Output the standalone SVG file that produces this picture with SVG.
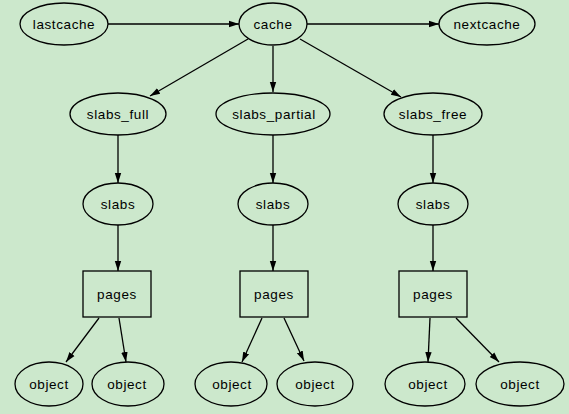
<svg xmlns="http://www.w3.org/2000/svg" width="569" height="414" viewBox="0 0 569 414">
<defs>
<marker id="arr" markerWidth="11" markerHeight="8" refX="10" refY="4" orient="auto" markerUnits="userSpaceOnUse">
<path d="M0,0.8 L10,4 L0,7.2 Z" fill="#000"/>
</marker>
</defs>
<style>
.n ellipse, .n rect { fill: none; stroke: #000; stroke-width: 1.3; }
.n text { font-family: "Liberation Sans", Arial, sans-serif; font-size: 13.5px; letter-spacing: 0.6px; text-anchor: middle; fill: #000; }
#edges line { stroke: #000; stroke-width: 1.3; marker-end: url(#arr); }
</style>
<rect x="0" y="0" width="569" height="414" fill="#cce8cc"/>
<g id="edges">
<line x1="108" y1="24" x2="239" y2="24"/>
<line x1="307" y1="24" x2="439" y2="24"/>
<line x1="248" y1="39" x2="150" y2="96"/>
<line x1="273" y1="46" x2="273" y2="92"/>
<line x1="300" y1="39" x2="401" y2="97"/>
<line x1="118" y1="135" x2="118" y2="183"/>
<line x1="273" y1="135" x2="273" y2="183"/>
<line x1="433" y1="135" x2="433" y2="183"/>
<line x1="118" y1="225" x2="118" y2="271"/>
<line x1="273" y1="225" x2="273" y2="271"/>
<line x1="433" y1="225" x2="433" y2="271"/>
<line x1="99" y1="318" x2="66" y2="362"/>
<line x1="119" y1="318" x2="126" y2="362"/>
<line x1="262" y1="318" x2="242" y2="362"/>
<line x1="284" y1="318" x2="304" y2="361"/>
<line x1="430" y1="318" x2="428" y2="362"/>
<line x1="456" y1="318" x2="499" y2="362"/>
</g>
<g id="lastcache" class="n"><ellipse cx="64" cy="24" rx="44" ry="21"/><text x="64" y="29">lastcache</text></g>
<g id="cache" class="n"><ellipse cx="273" cy="24" rx="34" ry="21"/><text x="273" y="29">cache</text></g>
<g id="nextcache" class="n"><ellipse cx="487" cy="24" rx="48" ry="21"/><text x="487" y="29">nextcache</text></g>
<g id="slabs_full" class="n"><ellipse cx="118" cy="114" rx="48" ry="21"/><text x="118" y="119">slabs_full</text></g>
<g id="slabs_partial" class="n"><ellipse cx="273" cy="114" rx="57" ry="21"/><text x="274" y="119">slabs_partial</text></g>
<g id="slabs_free" class="n"><ellipse cx="433" cy="114" rx="49" ry="21"/><text x="433" y="119">slabs_free</text></g>
<g id="slabs1" class="n"><ellipse cx="118" cy="204" rx="35" ry="21"/><text x="118" y="209">slabs</text></g>
<g id="slabs2" class="n"><ellipse cx="273" cy="204" rx="35" ry="21"/><text x="273" y="209">slabs</text></g>
<g id="slabs3" class="n"><ellipse cx="433" cy="204" rx="35" ry="21"/><text x="433" y="209">slabs</text></g>
<g id="pages1" class="n"><rect x="83" y="271" width="68" height="46"/><text x="117" y="299">pages</text></g>
<g id="pages2" class="n"><rect x="240" y="271" width="68" height="46"/><text x="274" y="299">pages</text></g>
<g id="pages3" class="n"><rect x="399" y="271" width="68" height="46"/><text x="433" y="299">pages</text></g>
<g id="object1" class="n"><ellipse cx="49" cy="384" rx="34" ry="22"/><text x="49" y="389">object</text></g>
<g id="object2" class="n"><ellipse cx="128" cy="384" rx="36" ry="22"/><text x="127" y="389">object</text></g>
<g id="object3" class="n"><ellipse cx="231" cy="384" rx="36" ry="22"/><text x="232" y="389">object</text></g>
<g id="object4" class="n"><ellipse cx="315" cy="384" rx="38" ry="22"/><text x="315" y="389">object</text></g>
<g id="object5" class="n"><ellipse cx="425" cy="384" rx="40" ry="22"/><text x="428" y="389">object</text></g>
<g id="object6" class="n"><ellipse cx="520" cy="384" rx="44" ry="22"/><text x="520" y="389">object</text></g>
</svg>
